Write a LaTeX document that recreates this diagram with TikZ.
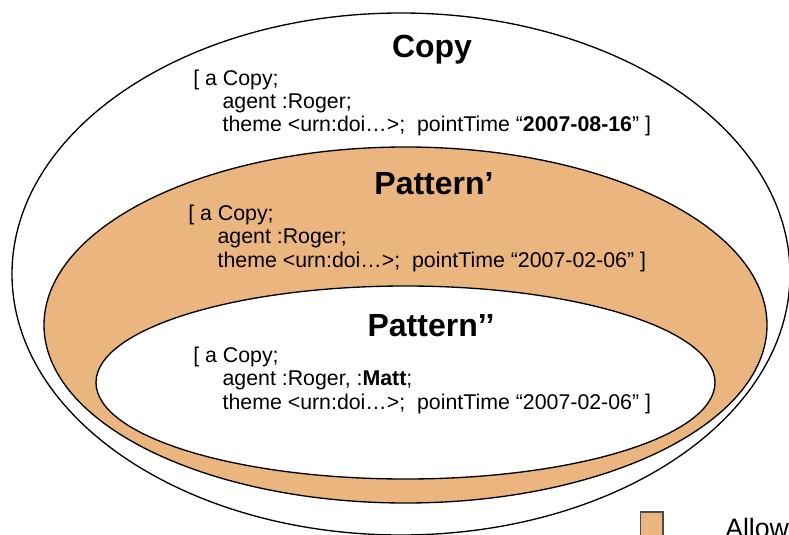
\documentclass[tikz,border=0pt]{standalone}
\usepackage{fontspec}
\setmainfont{Liberation Sans}
\usetikzlibrary{positioning}
\definecolor{allowcolor}{HTML}{EBB57F}

\begin{document}
\begin{tikzpicture}[x=0.75pt, y=-0.75pt,
  every node/.style={font=\fontsize{16}{17.6}\selectfont, inner sep=0pt},
  title/.style={font=\fontsize{24}{28}\selectfont\bfseries, anchor=base},
  body/.style={align=left, anchor=base west},
  setline/.style={line width=1pt},
  keybox/.style={draw=black!70, fill=allowcolor, line width=1pt,
                 minimum width=17pt, minimum height=18pt}
]
  \useasboundingbox (0,0) rectangle (789,535);
  % nested sets
  \draw[setline] (401,274) ellipse [x radius=389, y radius=261];
  \draw[setline, fill=allowcolor] (405.5,325) ellipse [x radius=361.5, y radius=178];
  \draw[setline, fill=white] (405.5,382.5) ellipse [x radius=309.5, y radius=96.5];

  \node[title] (copyT) at (432,58) {Copy};
  \node[body] (copyB) at (193,132) {[ a Copy;\\
    \hspace*{22pt}agent :Roger;\\
    \hspace*{22pt}theme <urn:doi…>;\ \ pointTime “\textbf{2007-08-16}” ]};

  \node[title] (patT) at (434,194) {Pattern’};
  \node[body] (patB) at (188,267) {[ a Copy;\\
    \hspace*{22pt}agent :Roger;\\
    \hspace*{22pt}theme <urn:doi…>;\ \ pointTime “2007-02-06” ]};

  \node[title] (pat2T) at (431,336) {Pattern’{}’};
  \node[body] (pat2B) at (193,409) {[ a Copy;\\
    \hspace*{22pt}agent :Roger, :\textbf{Matt};\\
    \hspace*{22pt}theme <urn:doi…>;\ \ pointTime “2007-02-06” ]};

  % legend
  \node[keybox] (key) at (651.5,524) {};
  \node[font=\fontsize{20}{24}\selectfont, anchor=base west] (allow) at (725,537) {Allow};
\end{tikzpicture}
\end{document}
